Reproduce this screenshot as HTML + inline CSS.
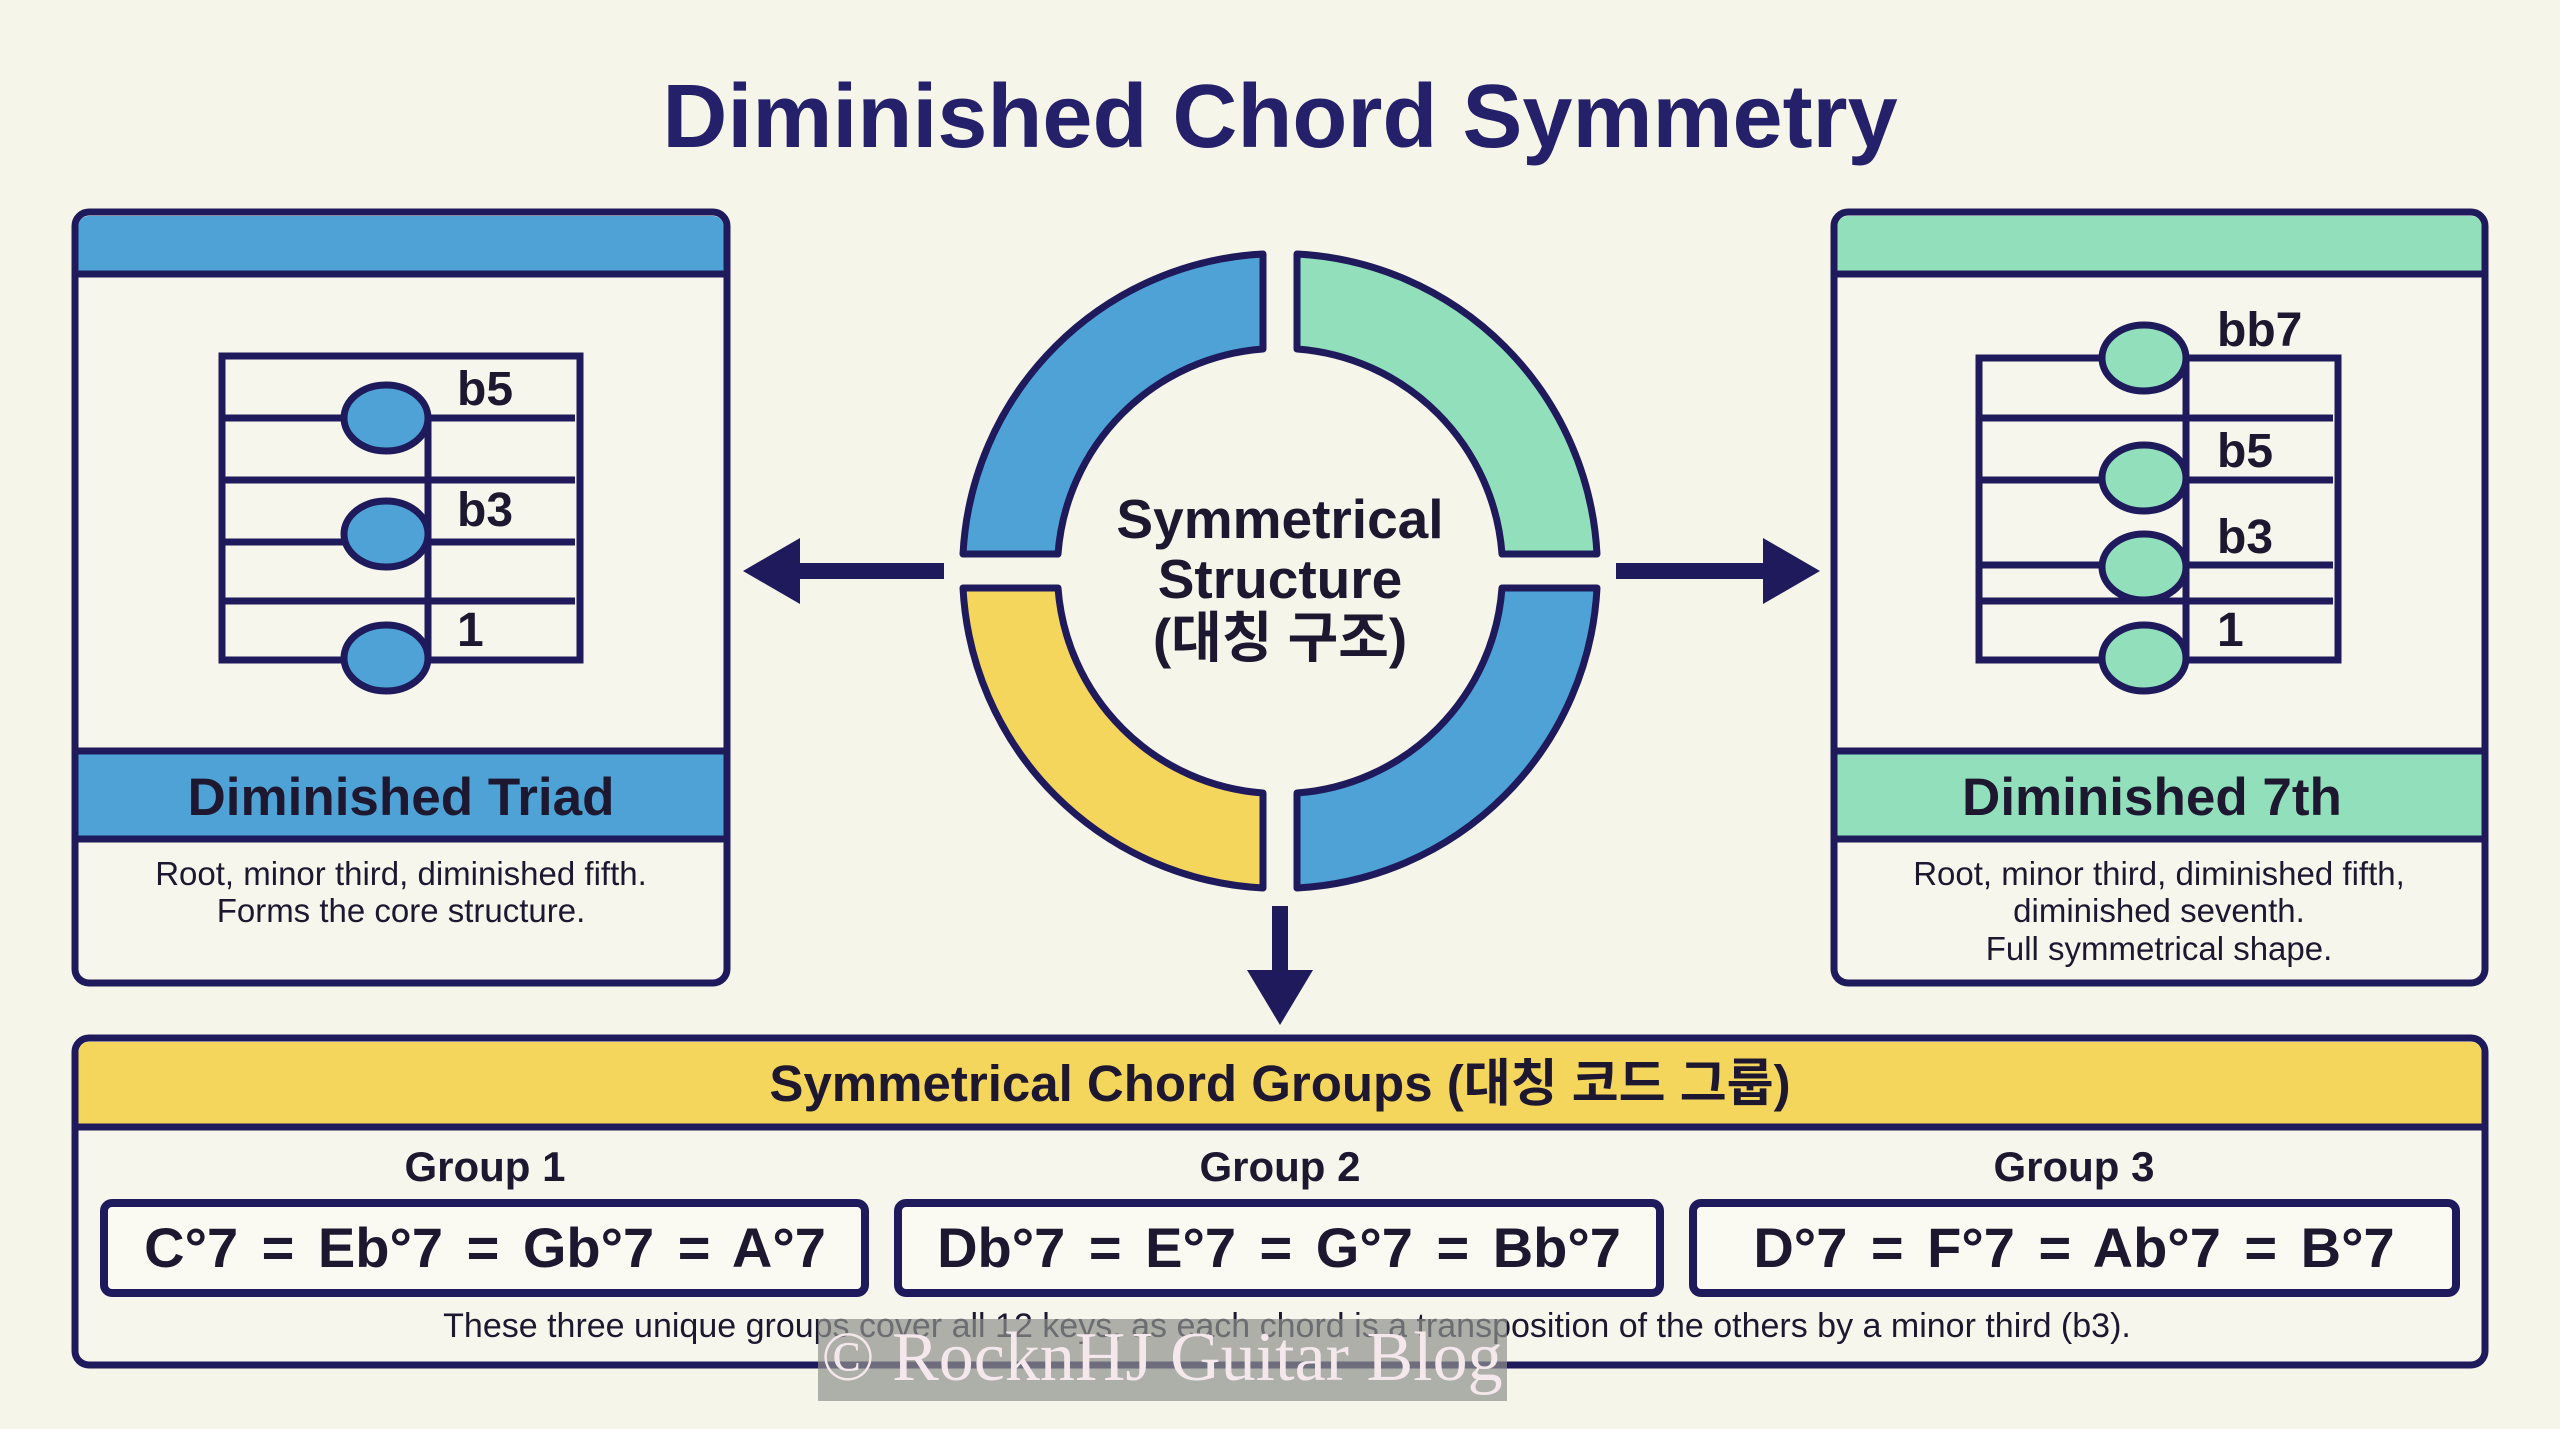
<!DOCTYPE html>
<html><head><meta charset="utf-8"><style>
html,body{margin:0;padding:0;background:#f6f5ea;}
svg{display:block;}
text{font-family:"Liberation Sans","Noto Sans CJK KR",sans-serif;fill:#1d1830;}
</style></head><body>
<svg width="2560" height="1429" viewBox="0 0 2560 1429" xmlns="http://www.w3.org/2000/svg">
<rect width="2560" height="1429" fill="#f6f5ea"/>
<text x="1280" y="147" text-anchor="middle" font-size="90" font-weight="bold" style="fill:#25206a">Diminished Chord Symmetry</text>

<!-- Left panel -->
<rect x="75" y="212" width="652" height="771" rx="14" fill="#f7f6ec" stroke="#1f1a5c" stroke-width="7"/>
<path d="M78.5 274 V226 a10 10 0 0 1 10 -10 H713.5 a10 10 0 0 1 10 10 V274 Z" fill="#4ea2d5"/>
<line x1="75" y1="274" x2="727" y2="274" stroke="#1f1a5c" stroke-width="7"/>
<rect x="78.5" y="751" width="645" height="88" fill="#4ea2d5"/>
<line x1="75" y1="751" x2="727" y2="751" stroke="#1f1a5c" stroke-width="7"/>
<line x1="75" y1="839" x2="727" y2="839" stroke="#1f1a5c" stroke-width="7"/>
<text x="401" y="815" text-anchor="middle" font-size="53" font-weight="bold">Diminished Triad</text>
<text x="401" y="885" text-anchor="middle" font-size="33">Root, minor third, diminished fifth.</text>
<text x="401" y="922" text-anchor="middle" font-size="33">Forms the core structure.</text>
<g stroke="#1f1a5c" stroke-width="7" fill="none">
<rect x="222" y="356" width="358" height="304"/>
<line x1="222" y1="418" x2="575" y2="418"/>
<line x1="222" y1="480" x2="575" y2="480"/>
<line x1="222" y1="542" x2="575" y2="542"/>
<line x1="222" y1="601" x2="575" y2="601"/>
<line x1="428" y1="418" x2="428" y2="658"/>
</g>
<g fill="#4ea2d5" stroke="#1f1a5c" stroke-width="7">
<ellipse cx="386" cy="418" rx="42" ry="33"/>
<ellipse cx="386" cy="534" rx="42" ry="33"/>
<ellipse cx="386" cy="658" rx="42" ry="33"/>
</g>
<text x="457" y="405" font-size="48" font-weight="bold">b5</text>
<text x="457" y="526" font-size="48" font-weight="bold">b3</text>
<text x="457" y="646" font-size="48" font-weight="bold">1</text>

<!-- Right panel -->
<rect x="1834" y="212" width="651" height="771" rx="14" fill="#f7f6ec" stroke="#1f1a5c" stroke-width="7"/>
<path d="M1837.5 274 V226 a10 10 0 0 1 10 -10 H2471.5 a10 10 0 0 1 10 10 V274 Z" fill="#92e0bb"/>
<line x1="1834" y1="274" x2="2485" y2="274" stroke="#1f1a5c" stroke-width="7"/>
<rect x="1837.5" y="751" width="644" height="88" fill="#92e0bb"/>
<line x1="1834" y1="751" x2="2485" y2="751" stroke="#1f1a5c" stroke-width="7"/>
<line x1="1834" y1="839" x2="2485" y2="839" stroke="#1f1a5c" stroke-width="7"/>
<text x="2152" y="815" text-anchor="middle" font-size="53" font-weight="bold">Diminished 7th</text>
<text x="2159" y="885" text-anchor="middle" font-size="33">Root, minor third, diminished fifth,</text>
<text x="2159" y="922" text-anchor="middle" font-size="33">diminished seventh.</text>
<text x="2159" y="960" text-anchor="middle" font-size="33">Full symmetrical shape.</text>
<g stroke="#1f1a5c" stroke-width="7" fill="none">
<rect x="1979" y="358" width="359" height="302"/>
<line x1="1979" y1="418" x2="2333" y2="418"/>
<line x1="1979" y1="480" x2="2333" y2="480"/>
<line x1="1979" y1="565" x2="2333" y2="565"/>
<line x1="1979" y1="601" x2="2333" y2="601"/>
<line x1="2186" y1="358" x2="2186" y2="658"/>
</g>
<g fill="#92e0bb" stroke="#1f1a5c" stroke-width="7">
<ellipse cx="2144" cy="358" rx="42" ry="33"/>
<ellipse cx="2144" cy="478" rx="42" ry="33"/>
<ellipse cx="2144" cy="567" rx="42" ry="33"/>
<ellipse cx="2144" cy="658" rx="42" ry="33"/>
</g>
<text x="2217" y="346" font-size="48" font-weight="bold">bb7</text>
<text x="2217" y="467" font-size="48" font-weight="bold">b5</text>
<text x="2217" y="553" font-size="48" font-weight="bold">b3</text>
<text x="2217" y="646" font-size="48" font-weight="bold">1</text>

<!-- Ring -->
<g stroke="#1f1a5c" stroke-width="7" stroke-linejoin="round">
<path d="M1263 254 A317 317 0 0 0 963 554 L1058 554 A222 222 0 0 1 1263 349 Z" fill="#4ea2d5"/>
<path d="M1297 254 A317 317 0 0 1 1597 554 L1502 554 A222 222 0 0 0 1297 349 Z" fill="#92e0bb"/>
<path d="M1263 888 A317 317 0 0 1 963 588 L1058 588 A222 222 0 0 0 1263 793 Z" fill="#f5d65c"/>
<path d="M1297 888 A317 317 0 0 0 1597 588 L1502 588 A222 222 0 0 1 1297 793 Z" fill="#4ea2d5"/>
</g>
<text x="1280" y="538" text-anchor="middle" font-size="55" font-weight="bold">Symmetrical</text>
<text x="1280" y="598" text-anchor="middle" font-size="55" font-weight="bold">Structure</text>
<text x="1280" y="657" text-anchor="middle" font-size="55" font-weight="bold">(대칭 구조)</text>

<!-- Arrows -->
<g fill="#1f1a5c">
<rect x="795" y="563" width="149" height="16"/>
<polygon points="743,571 800,538 800,604"/>
<rect x="1616" y="563" width="150" height="16"/>
<polygon points="1820,571 1763,538 1763,604"/>
<rect x="1272" y="906" width="16" height="70"/>
<polygon points="1280,1025 1247,970 1313,970"/>
</g>

<!-- Bottom panel -->
<rect x="75" y="1038" width="2410" height="327" rx="14" fill="#f7f6ec" stroke="#1f1a5c" stroke-width="7"/>
<path d="M78.5 1127 V1052 a10 10 0 0 1 10 -10 H2471.5 a10 10 0 0 1 10 10 V1127 Z" fill="#f5d65c"/>
<line x1="75" y1="1127" x2="2485" y2="1127" stroke="#1f1a5c" stroke-width="7"/>
<text x="1280" y="1101" text-anchor="middle" font-size="51" font-weight="bold">Symmetrical Chord Groups (대칭 코드 그룹)</text>
<text x="485" y="1181" text-anchor="middle" font-size="42" font-weight="bold">Group 1</text>
<text x="1280" y="1181" text-anchor="middle" font-size="42" font-weight="bold">Group 2</text>
<text x="2074" y="1181" text-anchor="middle" font-size="42" font-weight="bold">Group 3</text>
<g fill="#fbfaf2" stroke="#1f1a5c" stroke-width="8">
<rect x="104" y="1203" width="761" height="90" rx="8"/>
<rect x="898" y="1203" width="762" height="90" rx="8"/>
<rect x="1693" y="1203" width="763" height="90" rx="8"/>
</g>
<text x="485" y="1267" text-anchor="middle" font-size="56" font-weight="bold" word-spacing="8">C°7 = Eb°7 = Gb°7 = A°7</text>
<text x="1279" y="1267" text-anchor="middle" font-size="56" font-weight="bold" word-spacing="8">Db°7 = E°7 = G°7 = Bb°7</text>
<text x="2074" y="1267" text-anchor="middle" font-size="56" font-weight="bold" word-spacing="8">D°7 = F°7 = Ab°7 = B°7</text>
<text x="1287" y="1337" text-anchor="middle" font-size="34">These three unique groups cover all 12 keys, as each chord is a transposition of the others by a minor third (b3).</text>

<!-- Watermark -->
<rect x="818" y="1319" width="689" height="82" fill="#8e918d" fill-opacity="0.7"/>
<text x="1162" y="1380" text-anchor="middle" font-size="70" style="font-family:'Liberation Serif',serif;fill:#f4e8ec">© RocknHJ Guitar Blog</text>
</svg>
</body></html>
